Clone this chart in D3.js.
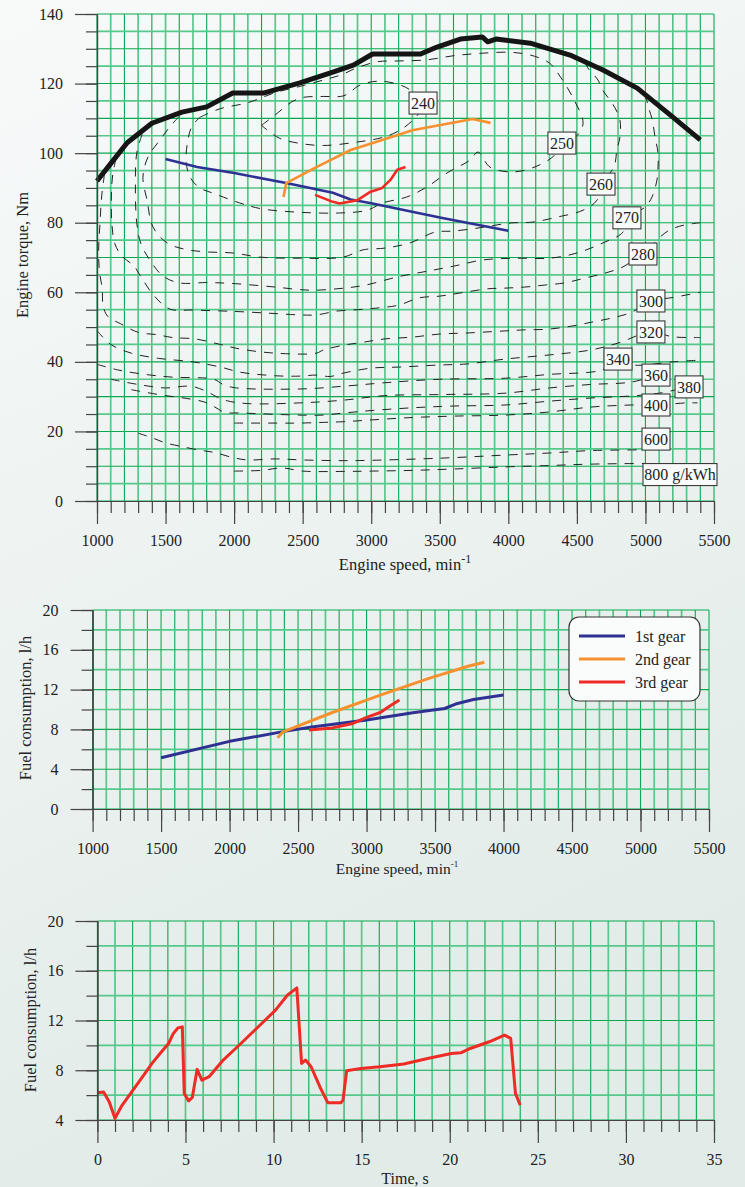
<!DOCTYPE html>
<html>
<head>
<meta charset="utf-8">
<script src="https://cdn.jsdelivr.net/npm/d3@7"></script>
<style>
    body { margin: 0; background: #eef3f2; }
    svg text { font-family: "Liberation Serif", "Times New Roman", serif; fill: #222; }
</style>
</head>
<body>
<svg id="chart"></svg>
<script>
// ---- top chart: engine map ----
const fullLoadRpm = [1000, 1120, 1220, 1400, 1620, 1800, 1990, 2220, 2480, 2720, 2870, 3010, 3360, 3480, 3650, 3810, 3850, 3910, 4160, 4450, 4690, 4940, 5180, 5400];
const fullLoadNm = [92, 98, 103, 108.6, 111.8, 113.3, 117.3, 117.3, 120.2, 123.3, 125.3, 128.5, 128.5, 130.5, 132.8, 133.4, 132, 132.8, 131.6, 128.2, 123.9, 118.7, 111, 103.8];

const gear1Rpm = [1500, 1730, 2000, 2380, 2720, 2850, 3000, 3500, 4000];
const gear1Nm = [98.3, 96, 94.3, 91.4, 88.6, 86.7, 85.6, 81.5, 77.7];
const gear2Rpm = [2360, 2380, 2600, 2850, 3000, 3300, 3740, 3870];
const gear2Nm = [87.4, 91.4, 96, 100.9, 102.8, 106.6, 109.8, 108.7];
const gear3Rpm = [2590, 2720, 2770, 2900, 2990, 3080, 3140, 3190, 3250];
const gear3Nm = [88, 86, 85.5, 86.5, 88.8, 90, 92.3, 95.2, 96];

// bsfc iso-lines, [rpm, Nm]
const iso240 = [[2200,108],[2300,111],[2420,114.7],[2500,116],[2650,116.3],[2800,116.5],[2920,119.6],[3060,120.7],[3210,119.6],[3290,118],[3378,114.4],[3330,110.5],[3300,109.3],[3210,106.6],[3090,104.6],[2900,103.2],[2650,102.2],[2480,102.8],[2330,104.3],[2200,108]];
const iso250 = [[1750,110.3],[1900,112.8],[2100,114.5],[2300,117.4],[2480,119.2],[2650,121],[2780,122.5],[2900,124.6],[3050,126.3],[3200,126.5],[3400,126.8],[3600,128],[3800,128.7],[4010,129],[4160,128.2],[4300,125.9],[4380,121.9],[4470,116],[4545,108.7],[4500,105],[4391,102.9],[4340,99.5],[4210,96.3],[4035,94.6],[3866,96],[3779,100.3],[3720,98],[3553,94.3],[3407,90.3],[3260,87.4],[3086,85.7],[2970,83.6],[2770,82.8],[2480,83],[2200,84],[2040,85.7],[1846,88.5],[1750,90],[1680,93],[1650,97.5],[1660,103],[1690,107.5],[1750,110.3]];
const iso260 = [[4560,126.2],[4580,124.5],[4654,121],[4690,118],[4727,116],[4778,113],[4814,109.5],[4814,104.6],[4792,101],[4770,96],[4676,91.1],[4647,86.5],[4545,83.6],[4355,81.6],[4180,80.2],[4012,79.9],[3800,78.6],[3600,77.6],[3465,77.3],[3283,74.2],[3100,72.7],[2940,72.2],[2794,70.1],[2480,69.8],[2189,70.1],[1993,71.3],[1802,71.6],[1650,72.3],[1511,74.2],[1408,78.8],[1365,86.5],[1335,93.1],[1372,98.9],[1459,103.8],[1530,107.5],[1600,110.6]];
const iso270 = [[5000,117],[5020,113.5],[5050,109.5],[5070,104.6],[5092,100],[5092,96],[5084,92.3],[5048,87.4],[4997,84.5],[4865,81.4],[4836,77.3],[4690,74.2],[4501,71.3],[4304,69.8],[4063,69.8],[3815,69.3],[3600,67.5],[3400,66],[3200,64.5],[2950,62],[2750,61],[2550,60.6],[2300,61.5],[2000,62.5],[1800,62.8],[1600,62.7],[1481,64.7],[1390,69],[1320,74],[1290,80],[1280,90],[1290,100],[1330,105.5]];
const iso280 = [[1140,98.5],[1115,94],[1105,88],[1108,80],[1130,74],[1180,70.5],[1270,67.5],[1320,64.5],[1410,59.3],[1530,55.2],[1700,54.9],[2000,54.5],[2250,54],[2480,53.5],[2600,53.5],[2750,54.6],[2900,55],[3050,55.5],[3200,56.3],[3350,58.4],[3500,58.9],[3650,59.8],[3850,61],[3976,61.2],[4120,61.5],[4270,62.1],[4410,62.7],[4560,64.1],[4705,65.5],[4836,67.3],[4920,69.5],[4982,71],[5060,74],[5110,76],[5180,78],[5280,79.3],[5400,80]];
const iso300 = [[1055,94],[1035,88],[1022,80],[1012,72],[1018,66],[1038,61],[1045,56],[1080,53],[1170,51],[1300,48.5],[1440,47.8],[1550,47],[1715,46.6],[1900,45],[2043,43.7],[2300,42.5],[2600,42.5],[2650,43.4],[2800,44.8],[2950,45.7],[3100,46.6],[3300,47.1],[3500,48],[3700,48.3],[3976,48.9],[4121,49.2],[4290,49.4],[4465,50.3],[4618,51.5],[4756,52.6],[4902,54.3],[5040,57.5],[5200,58.5],[5400,60]];
const iso320 = [[1000,49],[1100,45],[1250,42.5],[1450,41],[1700,40],[1900,38.5],[2050,37],[2300,36],[2480,35.9],[2600,36.2],[2700,35.8],[2800,36.8],[3000,38.2],[3200,38.5],[3500,39.1],[3700,39.4],[3976,40.8],[4300,42],[4600,43.4],[4800,45.4],[5040,48.6],[5200,47.2],[5400,47]];
const iso340 = [[1000,39.3],[1150,37.7],[1330,36.5],[1550,35.6],[1850,35],[1920,33.5],[2000,32.6],[2480,32.2],[2800,33],[3100,34],[3500,35],[3976,35.3],[4300,36.4],[4660,37.4],[4800,39.5],[4950,39],[5200,40],[5400,40.5]];
const iso360 = [[1100,35],[1300,33.5],[1500,32.5],[1680,33],[1800,31.5],[1870,30],[1950,28.8],[2100,28],[2480,28.2],[2800,29],[3100,30.3],[3500,30.6],[3976,31],[4300,32.5],[4600,33.5],[4900,34.2],[5077,36.2]];
const iso380 = [[1250,32],[1480,30.4],[1650,29.5],[1780,28.5],[1860,27],[1930,25.5],[2050,25.3],[2480,24.7],[2650,24.7],[2800,25.3],[3000,26],[3300,26.8],[3600,27.3],[3976,27.6],[4300,28.7],[4600,29.6],[4900,30.2],[5100,31],[5318,32.8]];
const iso400 = [[2000,22.4],[2300,22.4],[2480,22.4],[2650,22.6],[2800,22.8],[3000,23.3],[3300,24],[3600,24.4],[3976,24.7],[4300,25.6],[4600,27],[4900,27.6],[5077,27.6],[5300,28.2],[5380,28.2]];
const iso600 = [[1300,19.5],[1400,18.2],[1500,16.7],[1600,15.8],[1750,14.6],[1850,14],[2000,12.4],[2100,11.8],[2300,12.1],[2500,11.8],[2800,11.6],[3000,11.7],[3500,12.3],[3976,13.2],[4300,13.8],[4600,14.5],[4960,14.7]];
const iso800 = [[2000,8.6],[2200,8.8],[2350,9.5],[2500,8.6],[2800,8.5],[3000,8.6],[3300,8.8],[3600,9.2],[3976,9.8],[4300,10.2],[4600,10.6],[5000,10.8]];
const isoLines = [iso240, iso250, iso260, iso270, iso280, iso300, iso320, iso340, iso360, iso380, iso400, iso600, iso800];

// iso-line labels and where they sit [rpm, Nm]
const isoLabelText = ["240", "250", "260", "270", "280", "300", "320", "340", "360", "380", "400", "600", "800 g/kWh"];
const isoLabelRpm = [3378, 4391, 4676, 4865, 4982, 5040, 5040, 4800, 5077, 5318, 5077, 5077, 5252];
const isoLabelNm = [114.4, 102.9, 91.1, 81.4, 71, 57.5, 48.6, 40.8, 36.2, 32.8, 27.6, 17.8, 7.6];

// ---- middle chart: fuel consumption vs speed ----
const fc1Rpm = [1500, 2000, 2400, 2600, 3000, 3350, 3570, 3650, 3780, 4000];
const fc1 = [5.15, 6.8, 7.8, 8.25, 8.95, 9.7, 10.1, 10.55, 11.0, 11.45];
const fc2Rpm = [2350, 2390, 2750, 3100, 3450, 3740, 3860];
const fc2 = [7.15, 7.75, 9.7, 11.45, 13.1, 14.35, 14.75];
const fc3Rpm = [2580, 2750, 2900, 3000, 3100, 3170, 3240];
const fc3 = [7.95, 8.15, 8.6, 9.2, 9.7, 10.35, 10.95];
const legendNames = ["1st gear", "2nd gear", "3rd gear"];

// ---- bottom chart: fuel consumption vs time ----
const timeS = [0, 0.35, 0.67, 1.0, 1.35, 2.02, 2.7, 3.1, 3.64, 4.04, 4.31, 4.58, 4.82, 4.93, 5.18, 5.39, 5.66, 5.93, 6.34, 7.14, 7.95, 9.03, 10.11, 10.78, 11.32, 11.59, 11.81, 12.13, 12.67, 13.08, 13.83, 13.94, 14.15, 14.96, 16.04, 17.39, 18.74, 20.09, 20.63, 21.16, 22.24, 23.11, 23.46, 23.73, 24.0];
const fuelT = [6.19, 6.25, 5.47, 4.13, 5.07, 6.41, 7.75, 8.55, 9.49, 10.15, 10.96, 11.41, 11.49, 6.14, 5.53, 5.82, 8.07, 7.21, 7.48, 8.82, 9.89, 11.36, 12.83, 14.03, 14.62, 8.55, 8.82, 8.28, 6.54, 5.39, 5.39, 5.6, 7.96, 8.15, 8.28, 8.5, 8.95, 9.35, 9.4, 9.75, 10.29, 10.82, 10.56, 6.14, 5.2];

const BLUE = "#2e3192", ORANGE = "#f7902f", RED = "#ee2b24";

const svg = d3.select("#chart").attr("width", 745).attr("height", 1187);

// page background
const defs = svg.append("defs");
const bg = defs.append("linearGradient").attr("id", "bg")
    .attr("x1", 0).attr("y1", 0).attr("x2", 0.3).attr("y2", 1);
bg.append("stop").attr("offset", "0%").attr("stop-color", "#f8fafa");
bg.append("stop").attr("offset", "100%").attr("stop-color", "#e1ebe8");
svg.append("rect").attr("width", 745).attr("height", 1187).attr("fill", "url(#bg)");

function drawGrid(g, x, y, xVals, yVals) {
    const [y0, y1] = y.range();
    const [x0, x1] = x.range();
    g.append("g").selectAll("line").data(xVals).join("line")
        .attr("x1", d => x(d)).attr("x2", d => x(d))
        .attr("y1", y0).attr("y2", y1)
        .attr("stroke", (d, i) => i % 2 ? "#55c88a" : "#08a94e")
        .attr("stroke-width", (d, i) => i % 2 ? 1.7 : 1.1);
    g.append("g").selectAll("line").data(yVals).join("line")
        .attr("x1", x0).attr("x2", x1)
        .attr("y1", d => y(d)).attr("y2", d => y(d))
        .attr("stroke", (d, i) => i % 2 ? "#55c88a" : "#08a94e")
        .attr("stroke-width", (d, i) => i % 2 ? 1.7 : 1.1);
}

function styleAxis(a) {
    a.attr("font-size", 16);
    a.selectAll("line, path").attr("stroke", "#444").attr("stroke-width", 1.2);
}

function drawAxes(g, x, y, xMinor, xMajor, yMinor, yMajor) {
    const yPos = y.range()[0];
    const xPos = x.range()[0];
    g.append("g").attr("transform", `translate(0,${yPos})`)
        .call(d3.axisBottom(x).tickValues(xMinor).tickSize(12).tickFormat("").tickSizeOuter(0))
        .call(styleAxis);
    g.append("g").attr("transform", `translate(0,${yPos})`)
        .call(d3.axisBottom(x).tickValues(xMajor).tickSize(23).tickPadding(11).tickSizeOuter(0).tickFormat(d => d))
        .call(styleAxis);
    g.append("g").attr("transform", `translate(${xPos},0)`)
        .call(d3.axisLeft(y).tickValues(yMinor).tickSize(11).tickFormat("").tickSizeOuter(0))
        .call(styleAxis);
    g.append("g").attr("transform", `translate(${xPos},0)`)
        .call(d3.axisLeft(y).tickValues(yMajor).tickSize(22).tickPadding(12).tickSizeOuter(0).tickFormat(d => d))
        .call(styleAxis);
}

function yTitle(g, x, y, text) {
    g.append("text").attr("transform", `translate(${x},${y}) rotate(-90)`)
        .attr("text-anchor", "middle").attr("font-size", 16.5).text(text);
}

function gearPath(g, x, y, xs, ys, color, w) {
    const line = d3.line().x(d => x(d[0])).y(d => y(d[1]));
    g.append("path").datum(d3.zip(xs, ys))
        .attr("d", line).attr("fill", "none")
        .attr("stroke", color).attr("stroke-width", w)
        .attr("stroke-linejoin", "round");
}

// ================= TOP =================
const xTop = d3.scaleLinear().domain([1000, 5500]).range([97, 714]);
const yTop = d3.scaleLinear().domain([0, 140]).range([501, 14]);
const topG = svg.append("g");

drawGrid(topG, xTop, yTop, d3.range(1000, 5501, 100), d3.range(0, 141, 5));

const isoLine = d3.line().x(d => xTop(d[0])).y(d => yTop(d[1])).curve(d3.curveCatmullRom.alpha(0.5));
topG.append("g").selectAll("path").data(isoLines).join("path")
    .attr("d", isoLine)
    .attr("fill", "none")
    .attr("stroke", "#222")
    .attr("stroke-width", 1)
    .attr("stroke-dasharray", "9,8");

gearPath(topG, xTop, yTop, gear1Rpm, gear1Nm, BLUE, 2.6);
gearPath(topG, xTop, yTop, gear2Rpm, gear2Nm, ORANGE, 2.6);
gearPath(topG, xTop, yTop, gear3Rpm, gear3Nm, RED, 2.6);
gearPath(topG, xTop, yTop, fullLoadRpm, fullLoadNm, "#151515", 5);

// iso-line label boxes
const labels = topG.append("g").selectAll("g").data(isoLabelText).join("g")
    .attr("transform", (d, i) => `translate(${xTop(isoLabelRpm[i])},${yTop(isoLabelNm[i])})`);
labels.append("rect")
    .attr("x", d => d.length > 3 ? -37 : -14).attr("y", -11)
    .attr("width", d => d.length > 3 ? 74 : 28).attr("height", 22)
    .attr("fill", "#f9fbfb").attr("stroke", "#3a3a3a").attr("stroke-width", 1.1);
labels.append("text")
    .attr("text-anchor", "middle").attr("dy", "0.35em")
    .attr("font-size", 16).text(d => d);

drawAxes(topG, xTop, yTop, d3.range(1000, 5501, 100), d3.range(1000, 5501, 500),
    d3.range(0, 141, 5), d3.range(0, 141, 20));
yTitle(topG, 28, 255, "Engine torque, Nm");
const tt = topG.append("text").attr("x", 405).attr("y", 570).attr("text-anchor", "middle").attr("font-size", 16.5);
tt.append("tspan").text("Engine speed, min");
tt.append("tspan").attr("font-size", 12).attr("dy", -7).text("-1");

// ================= MIDDLE =================
const xMid = d3.scaleLinear().domain([1000, 5500]).range([92.6, 709]);
const yMid = d3.scaleLinear().domain([0, 20]).range([809, 610]);
const midG = svg.append("g");

drawGrid(midG, xMid, yMid, d3.range(1000, 5501, 100), d3.range(0, 21, 2));
gearPath(midG, xMid, yMid, fc1Rpm, fc1, BLUE, 3);
gearPath(midG, xMid, yMid, fc2Rpm, fc2, ORANGE, 3);
gearPath(midG, xMid, yMid, fc3Rpm, fc3, RED, 3);
drawAxes(midG, xMid, yMid, d3.range(1000, 5501, 100), d3.range(1000, 5501, 500),
    d3.range(0, 21, 2), d3.range(0, 21, 4));
yTitle(midG, 31, 708, "Fuel consumption, l/h");
const mt = midG.append("text").attr("x", 397).attr("y", 874).attr("text-anchor", "middle").attr("font-size", 15.5);
mt.append("tspan").text("Engine speed, min");
mt.append("tspan").attr("font-size", 9).attr("dy", -7).text("-1");

// legend
const legend = midG.append("g").attr("transform", "translate(569,617)");
legend.append("rect").attr("width", 131).attr("height", 84).attr("rx", 10)
    .attr("fill", "#fafcfc").attr("stroke", "#333").attr("stroke-width", 1.2);
const legendColors = [BLUE, ORANGE, RED];
const items = legend.selectAll("g.item").data(legendNames).join("g")
    .attr("class", "item")
    .attr("transform", (d, i) => `translate(0,${19 + i * 23})`);
items.append("line").attr("x1", 10).attr("x2", 56)
    .attr("stroke", (d, i) => legendColors[i]).attr("stroke-width", 3.2);
items.append("text").attr("x", 66).attr("dy", "0.35em").attr("font-size", 16).text(d => d);

// ================= BOTTOM =================
const xBot = d3.scaleLinear().domain([0, 35]).range([97.4, 714]);
const yBot = d3.scaleLinear().domain([4, 20]).range([1120, 921]);
const botG = svg.append("g");

drawGrid(botG, xBot, yBot, d3.range(0, 36, 1), d3.range(4, 21, 2));
gearPath(botG, xBot, yBot, timeS, fuelT, RED, 3);
drawAxes(botG, xBot, yBot, d3.range(0, 36, 1), d3.range(0, 36, 5),
    d3.range(4, 21, 2), d3.range(4, 21, 4));
yTitle(botG, 36, 1020, "Fuel consumption, l/h");
botG.append("text").attr("x", 405).attr("y", 1184).attr("text-anchor", "middle")
    .attr("font-size", 16).text("Time, s");
</script>
</body>
</html>
